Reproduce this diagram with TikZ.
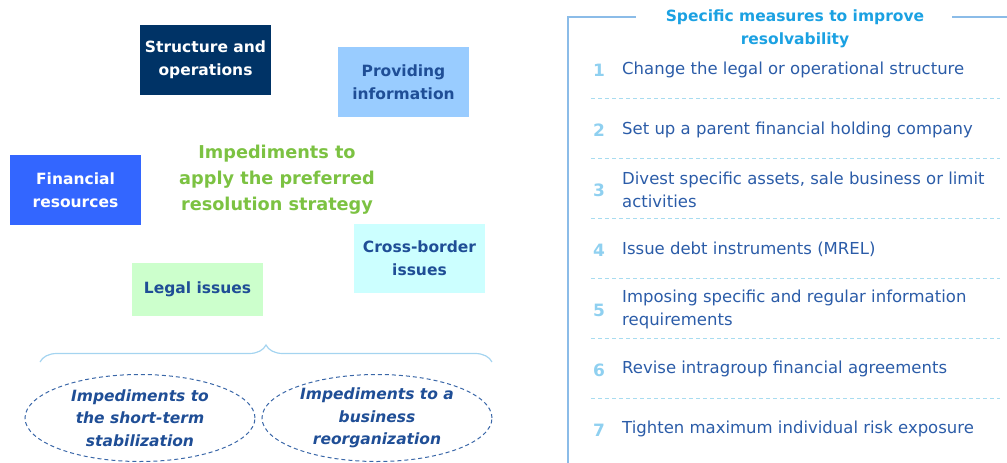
\documentclass[tikz,border=0pt]{standalone}
\usepackage{fontspec}
\setmainfont{DejaVu Sans}
\usetikzlibrary{shapes.geometric,decorations.pathreplacing}
\definecolor{navy}{RGB}{0,51,102}
\definecolor{skyfill}{RGB}{153,204,255}
\definecolor{royal}{RGB}{51,102,255}
\definecolor{cyanfill}{RGB}{204,255,255}
\definecolor{greenfill}{RGB}{204,255,204}
\definecolor{darkbluetext}{RGB}{31,78,150}
\definecolor{itemtext}{RGB}{43,92,168}
\definecolor{leafgreen}{RGB}{124,194,66}
\definecolor{titlecyan}{RGB}{27,161,226}
\definecolor{numblue}{RGB}{143,208,240}
\definecolor{bracecol}{RGB}{164,212,240}
\definecolor{framecol}{RGB}{139,188,232}
\definecolor{dashcol}{RGB}{168,220,240}
\definecolor{ellcol}{RGB}{58,103,168}
\tikzset{
  catbox/.style={minimum width=131pt, minimum height=70pt, inner sep=0pt, align=center,
    font=\fontsize{15.5}{23}\selectfont\bfseries},
  ellbox/.style={ellipse, draw=ellcol, dashed, line width=1pt, dash pattern=on 4pt off 3pt,
    minimum width=230pt, minimum height=87pt, inner sep=0pt, align=center,
    text=darkbluetext, font=\fontsize{15.5}{22.5}\selectfont\bfseries\itshape},
  numlab/.style={text=numblue, font=\fontsize{17}{20}\selectfont\bfseries, inner sep=0pt},
  itemlab/.style={anchor=west, text=itemtext, align=left, inner sep=0pt,
    font=\fontsize{16.5}{23}\selectfont},
  sepline/.style={draw=dashcol, line width=1pt, dash pattern=on 4pt off 3pt}
}
\begin{document}
\begin{tikzpicture}[x=1pt,y=-1pt]
\useasboundingbox (0,0) rectangle (1007,463);
% category boxes
\node[catbox, fill=navy, text=white] (struct) at (205.5,60) {Structure and\\operations};
\node[catbox, fill=skyfill, text=darkbluetext] (info) at (403.5,82) {Providing\\information};
\node[catbox, fill=royal, text=white] (fin) at (75.5,190) {Financial\\resources};
\node[catbox, fill=cyanfill, text=darkbluetext, minimum height=69pt] (cross) at (419.5,258.5) {Cross-border\\issues};
\node[catbox, fill=greenfill, text=darkbluetext, minimum height=53pt] (legal) at (197.5,289.5) {Legal issues};
\node[text=leafgreen, align=center, inner sep=0pt, font=\fontsize{17.7}{26}\selectfont\bfseries] (center) at (277,180) {Impediments to\\apply the preferred\\resolution strategy};
% brace
\coordinate (bl) at (40,362);
\coordinate (br) at (492,362);
\draw[bracecol, line width=1.2pt, decorate, decoration={brace, amplitude=17pt}] (bl) -- (br);
% ellipses
\node[ellbox] (e1) at (140,418) {Impediments to\\the short-term\\stabilization};
\node[ellbox] (e2) at (377,418) {Impediments to a\\business\\reorganization};
% right frame
\coordinate (ftl) at (568,17);
\coordinate (fbl) at (568,463);
\coordinate (ft1) at (636,17);
\coordinate (ft2) at (952,17);
\coordinate (ftr) at (1007,17);
\draw[framecol, line width=1.2pt] (fbl) -- (ftl) -- (ft1);
\draw[framecol, line width=1.2pt] (ft2) -- (ftr);
\node[text=titlecyan, align=center, inner sep=0pt, font=\fontsize{15.5}{23}\selectfont\bfseries] (title) at (795,29) {Specific measures to improve\\resolvability};
% items
\node[numlab] (n1) at (599,70) {1};
\node[itemlab] (t1) at (622,70) {Change the legal or operational structure};
\node[numlab] (n2) at (599,130) {2};
\node[itemlab] (t2) at (622,130) {Set up a parent financial holding company};
\node[numlab] (n3) at (599,190) {3};
\node[itemlab] (t3) at (622,189.5) {Divest specific assets, sale business or limit\\activities};
\node[numlab] (n4) at (599,250) {4};
\node[itemlab] (t4) at (622,249) {Issue debt instruments (MREL)};
\node[numlab] (n5) at (599,310) {5};
\node[itemlab] (t5) at (622,309) {Imposing specific and regular information\\requirements};
\node[numlab] (n6) at (599,370) {6};
\node[itemlab] (t6) at (622,369) {Revise intragroup financial agreements};
\node[numlab] (n7) at (599,430) {7};
\node[itemlab] (t7) at (622,429) {Tighten maximum individual risk exposure};
% separators
\foreach \yy/\nm in {98/a,158/b,218/c,278/d,338/e,398/f}{
  \coordinate (s\nm l) at (591,\yy);
  \coordinate (s\nm r) at (1000,\yy);
  \draw[sepline] (s\nm l) -- (s\nm r);
}
\end{tikzpicture}
\end{document}
